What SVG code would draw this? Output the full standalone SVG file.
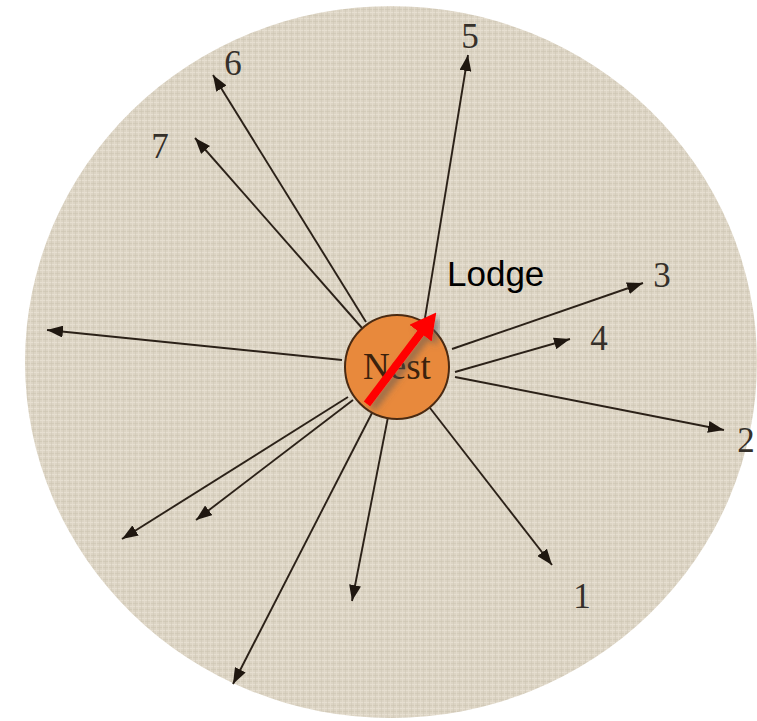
<svg xmlns="http://www.w3.org/2000/svg" width="757" height="721" viewBox="0 0 757 721">
  <style>
    .ray { stroke: #2b2118; stroke-width: 1.9; fill: none; marker-end: url(#ah); }
    .num { font-family: "Liberation Serif", "Times New Roman", serif; font-size: 35px; fill: #35302a; text-anchor: middle; }
    .lodge { font-family: "Liberation Sans", Arial, sans-serif; font-size: 35px; fill: #000; }
    .nest-t { font-family: "Liberation Serif", "Times New Roman", serif; font-size: 37px; fill: #3b210c; text-anchor: middle; }
  </style>
  <defs>
    <pattern id="linen" width="6" height="6" patternUnits="userSpaceOnUse">
      <rect width="6" height="6" fill="#dcd4c4"/>
      <rect x="0" y="0" width="6" height="1" fill="#e8e2d5" opacity="0.8"/>
      <rect x="0" y="3" width="6" height="1" fill="#ccc3b1" opacity="0.55"/>
      <rect x="0" y="0" width="1" height="6" fill="#e6dfd1" opacity="0.7"/>
      <rect x="3" y="0" width="1" height="6" fill="#cec5b3" opacity="0.5"/>
    </pattern>
    <marker id="ah" markerUnits="userSpaceOnUse" markerWidth="16" markerHeight="12" refX="16" refY="6" orient="auto">
      <path d="M0,0 L16,6 L0,12 z" fill="#1f1710"/>
    </marker>
    <marker id="redah" markerUnits="userSpaceOnUse" markerWidth="26" markerHeight="28" refX="4" refY="14" orient="auto">
      <path d="M0,0 L26,14 L0,28 z" fill="#ff0000"/>
    </marker>
    <filter id="shadow" x="-30%" y="-30%" width="160%" height="160%">
      <feDropShadow dx="5" dy="4" stdDeviation="3" flood-color="#555" flood-opacity="0.55"/>
    </filter>
  </defs>

  <rect width="757" height="721" fill="#ffffff"/>
  <g id="field">
    <ellipse cx="391" cy="362" rx="366" ry="356" fill="url(#linen)"/>
  </g>

  <g id="connectors">
    <line class="ray" x1="425" y1="318" x2="468" y2="55"/>
    <line class="ray" x1="366" y1="322" x2="213" y2="75"/>
    <line class="ray" x1="362" y1="328" x2="195" y2="138"/>
    <line class="ray" x1="342" y1="360" x2="47" y2="330"/>
    <line class="ray" x1="452" y1="349" x2="643" y2="283"/>
    <line class="ray" x1="455" y1="372" x2="570" y2="339"/>
    <line class="ray" x1="455" y1="377" x2="724" y2="430"/>
    <line class="ray" x1="430" y1="408" x2="552" y2="565"/>
    <line class="ray" x1="348" y1="397" x2="122" y2="539"/>
    <line class="ray" x1="353" y1="400" x2="196" y2="520"/>
    <line class="ray" x1="372" y1="413" x2="233" y2="684"/>
    <line class="ray" x1="388" y1="417" x2="352" y2="601"/>
  </g>

  <g id="nest">
    <circle cx="397" cy="367" r="52" fill="#e8893c" stroke="#4a2a12" stroke-width="2"/>
    <text class="nest-t" x="397" y="379">Nest</text>
  </g>

  <g id="lodge-arrow" filter="url(#shadow)">
    <line x1="367" y1="404" x2="423" y2="330" stroke="#ff0000" stroke-width="8" marker-end="url(#redah)"/>
  </g>

  <g id="lodge"><text class="lodge" x="447" y="286">Lodge</text></g>
  <g id="label-1"><text class="num" x="582" y="608">1</text></g>
  <g id="label-2"><text class="num" x="746" y="452">2</text></g>
  <g id="label-3"><text class="num" x="662" y="287">3</text></g>
  <g id="label-4"><text class="num" x="599" y="350">4</text></g>
  <g id="label-5"><text class="num" x="470" y="48">5</text></g>
  <g id="label-6"><text class="num" x="233" y="75">6</text></g>
  <g id="label-7"><text class="num" x="160" y="158">7</text></g>
</svg>
